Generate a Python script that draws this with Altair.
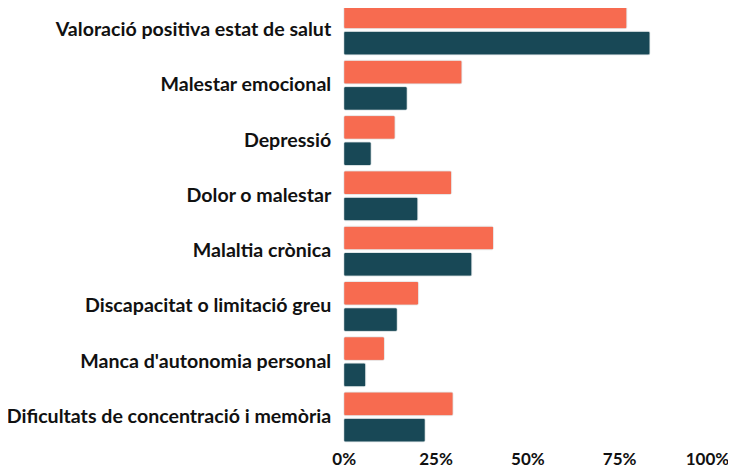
import altair as alt
import pandas as pd

categories = [
    "Valoració positiva estat de salut",
    "Malestar emocional",
    "Depressió",
    "Dolor o malestar",
    "Malaltia crònica",
    "Discapacitat o limitació greu",
    "Manca d'autonomia personal",
    "Dificultats de concentració i memòria",
]
series_names = ["A", "B"]
values_a = [77.1, 32.2, 14.0, 29.4, 40.8, 20.4, 11.1, 29.8]
values_b = [83.4, 17.3, 7.5, 20.2, 34.9, 14.6, 6.0, 22.2]
colors = ["#F76B50", "#184856"]

rows = []
for c, a, b in zip(categories, values_a, values_b):
    rows.append({"cat": c, "serie": series_names[0], "val": a / 100})
    rows.append({"cat": c, "serie": series_names[1], "val": b / 100})
df = pd.DataFrame(rows)

font = "Lato"

chart = (
    alt.Chart(df)
    .mark_bar(cornerRadius=2, stroke="#dfe6e8", strokeWidth=0.6)
    .encode(
        y=alt.Y(
            "cat:N",
            sort=categories,
            title=None,
            scale=alt.Scale(paddingInner=0.0964, paddingOuter=0),
            axis=alt.Axis(
                domain=False,
                ticks=False,
                labelFont=font,
                labelFontSize=19.6,
                labelFontWeight="bold",
                labelColor="#111111",
                labelPadding=13,
                labelLimit=400,
            ),
        ),
        yOffset=alt.YOffset(
            "serie:N",
            sort=series_names,
            scale=alt.Scale(paddingInner=0.1, paddingOuter=0),
        ),
        x=alt.X(
            "val:Q",
            title=None,
            scale=alt.Scale(domain=[0, 1], nice=False),
            axis=alt.Axis(
                values=[0, 0.25, 0.5, 0.75, 1],
                format=".0%",
                domain=False,
                ticks=False,
                grid=False,
                labelFont=font,
                labelFontSize=17,
                labelFontWeight="bold",
                labelColor="#111111",
                labelPadding=9,
                labelFlush=False,
                labelOffset=alt.ExprRef("datum.value == 1 ? -4 : 0"),
            ),
        ),
        color=alt.Color(
            "serie:N",
            sort=series_names,
            scale=alt.Scale(domain=series_names, range=colors),
            legend=None,
        ),
    )
    .properties(
        width=367.3,
        height=437,
        autosize=alt.AutoSizeParams(type="none"),
        padding={"left": 335.7, "top": -3, "right": 17, "bottom": 27},
    )
    .configure_view(stroke=None)
)

chart.save("out.html", embed_options={"renderer": "svg", "actions": False})
